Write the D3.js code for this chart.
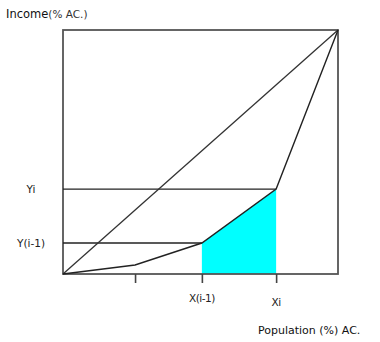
<!DOCTYPE html>
<html><head><meta charset="utf-8">
<script src="https://cdn.jsdelivr.net/npm/d3@7"></script>
<style>body{margin:0;background:#fff}svg{display:block}</style>
</head><body>
<script>
const curveX = [0, 26.2, 50.5, 77.5, 100];
const curveY = [0, 3.7, 12.7, 34.8, 100];
const tickX = [26.2, 50.5, 77.5];
const xLabels = [{v:50.5, t:"X(i-1)", dy:0}, {v:77.5, t:"Xi", dy:4}];
const yLabels = [{v:34.8, t:"Yi", xv:77.5}, {v:12.7, t:"Y(i-1)", xv:50.5}];
const shadeIdx = [2, 3];

const W = 380, H = 342;
const svg = d3.select("body").append("svg").attr("width", W).attr("height", H);
const x = d3.scaleLinear().domain([0, 100]).range([63, 338]);
const y = d3.scaleLinear().domain([0, 100]).range([274, 30]);
const pts = curveX.map((v, i) => [v, curveY[i]]);

// shaded area
const area = d3.area().x(d => x(d[0])).y0(y(0)).y1(d => y(d[1]));
svg.append("path").datum(pts.slice(shadeIdx[0], shadeIdx[1] + 1))
  .attr("d", area).attr("fill", "#00ffff");

// frame
svg.append("rect").attr("x", x(0)).attr("y", y(100))
  .attr("width", x(100) - x(0)).attr("height", y(0) - y(100))
  .attr("fill", "none").attr("stroke", "#555").attr("stroke-width", 1.8);

// ticks
const xAxis = d3.axisBottom(x).tickValues(tickX).tickSize(9).tickFormat("");
const g = svg.append("g").attr("transform", `translate(0,${y(0)})`).call(xAxis);
g.select(".domain").remove();
g.selectAll("line").attr("stroke", "#444").attr("stroke-width", 1.6);

// horizontal guides
yLabels.forEach(l => {
  svg.append("line").attr("x1", x(0)).attr("x2", x(l.xv))
    .attr("y1", y(l.v)).attr("y2", y(l.v)).attr("stroke", "#222").attr("stroke-width", 1.3);
});

// equality diagonal
svg.append("line").attr("x1", x(0)).attr("y1", y(0)).attr("x2", x(100)).attr("y2", y(100))
  .attr("stroke", "#333").attr("stroke-width", 1.3);

// Lorenz curve
svg.append("path").datum(pts).attr("fill", "none").attr("stroke", "#222").attr("stroke-width", 1.4)
  .attr("d", d3.line().x(d => x(d[0])).y(d => y(d[1])));

// text
const font = "DejaVu Sans, Verdana, sans-serif";
const t1 = svg.append("text").attr("x", 6).attr("y", 18).attr("font-family", font);
t1.append("tspan").attr("font-size", 11.5).attr("fill", "#111").text("Income");
t1.append("tspan").attr("font-size", 10.5).attr("fill", "#333").text("(% AC.)");

yLabels.forEach(l => {
  svg.append("text").attr("x", 31).attr("y", y(l.v) + 4).attr("text-anchor", "middle")
    .attr("font-family", font).attr("font-size", 10.5).attr("fill", "#222").text(l.t);
});
xLabels.forEach(l => {
  svg.append("text").attr("x", x(l.v)).attr("y", 302 + l.dy).attr("text-anchor", "middle")
    .attr("font-family", font).attr("font-size", 10.5).attr("fill", "#222")
    .attr("letter-spacing", -0.5).text(l.t);
});
svg.append("text").attr("x", 258).attr("y", 334).attr("font-family", font)
  .attr("font-size", 11).attr("fill", "#111").text("Population (%) AC.");
</script>
</body></html>
